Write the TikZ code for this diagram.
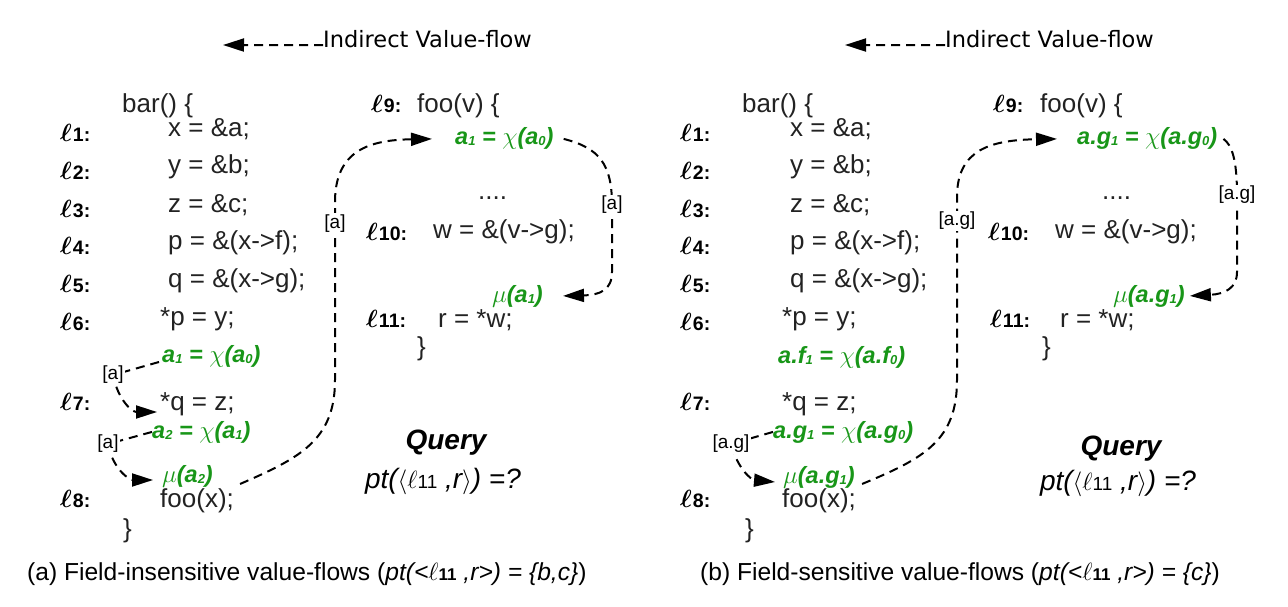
\documentclass[tikz,border=0pt]{standalone}
\usepackage{amsmath,bm}
\usepackage{fontspec}
\setmainfont{Liberation Sans}
\newfontfamily\legendfont{DejaVu Sans}
\usetikzlibrary{arrows.meta}
\definecolor{vgreen}{RGB}{24,150,24}
\definecolor{codegray}{RGB}{34,34,34}
\newcommand\Lno[1]{{\fontsize{27}{27}\selectfont$\boldsymbol{\ell}$}\kern1pt{\fontsize{19.5}{19.5}\selectfont\bfseries #1:}}
\newcommand\subn[1]{\raisebox{-1pt}{\fontsize{13}{13}\selectfont #1}}
\newcommand\subq[1]{{\upshape\fontsize{19}{19}\selectfont #1}}
\begin{document}
\begin{tikzpicture}[x=1pt,y=-1pt,
  code/.style={anchor=base west,inner sep=0pt,text=codegray,font=\fontsize{26}{26}\selectfont},
  lno/.style={anchor=base west,inner sep=0pt,font=\fontsize{24}{24}\selectfont},
  grn/.style={anchor=base west,inner sep=0pt,text=vgreen,font=\fontsize{23.5}{23.5}\selectfont\bfseries\itshape},
  tag/.style={fill=white,inner sep=1.5pt,font=\fontsize{19}{19}\selectfont},
  flow/.style={dash pattern=on 9pt off 6pt,line width=2pt,-{Triangle[length=21pt,width=13pt]}},
  legend/.style={anchor=base west,inner sep=0pt,font=\legendfont\fontsize{22.5}{22.5}\selectfont},
  query/.style={anchor=base,inner sep=0pt,font=\fontsize{28}{28}\selectfont\bfseries\itshape},
  ptq/.style={anchor=base,inner sep=0pt,font=\fontsize{28}{28}\selectfont\itshape},
  captext/.style={anchor=base west,inner sep=0pt,font=\fontsize{24.6}{24.6}\selectfont}]
\useasboundingbox (0,0) rectangle (1288,607);

% ---------- legends ----------
\node[legend] (legL) at (323,48) {Indirect Value-flow};
\coordinate (legLtip) at (223,45);
\draw[flow] ([yshift=-5.5pt]legL.west) -- (legLtip);
\node[legend] (legR) at (945,48) {Indirect Value-flow};
\coordinate (legRtip) at (845,45);
\draw[flow] ([yshift=-5.5pt]legR.west) -- (legRtip);

% ---------- panel (a): bar ----------
\node[code] (bar) at (122,113) {bar() \{};
\node[lno] (l1) at (60,142) {\Lno{1}};
\node[code] (c1) at (168,137) {x = \&a;};
\node[lno] (l2) at (60,179) {\Lno{2}};
\node[code] (c2) at (168,174) {y = \&b;};
\node[lno] (l3) at (60,217) {\Lno{3}};
\node[code] (c3) at (168,212) {z = \&c;};
\node[lno] (l4) at (60,254) {\Lno{4}};
\node[code] (c4) at (168,249) {p = \&(x->f);};
\node[lno] (l5) at (60,292) {\Lno{5}};
\node[code] (c5) at (168,287) {q = \&(x->g);};
\node[lno] (l6) at (60,330) {\Lno{6}};
\node[code] (c6) at (160,325) {*p = y;};
\node[grn] (gA1) at (162,362) {a\subn{1} = $\chi$(a\subn{0})};
\node[lno] (l7) at (60,410) {\Lno{7}};
\node[code] (c7) at (160,410) {*q = z;};
\node[grn] (gA2) at (152,438) {a\subn{2} = $\chi$(a\subn{1})};
\node[grn] (gMu) at (162,482) {$\mu$(a\subn{2})};
\node[lno] (l8) at (60,507) {\Lno{8}};
\node[code] (c8) at (160,507) {foo(x);};
\node[code] (cEnd) at (123,537) {\}};

% ---------- panel (a): foo ----------
\node[lno] (l9) at (371,113) {\Lno{9}};
\node[code] (f0) at (417,113) {foo(v) \{};
\node[grn] (gF) at (455,145) {a\subn{1} = $\chi$(a\subn{0})};
\node[code] (fd) at (478,200) {....};
\node[lno] (l10) at (366,240) {\Lno{10}};
\node[code] (f1) at (433,238) {w = \&(v->g);};
\node[grn] (gM) at (492,302) {$\mu$(a\subn{1})};
\node[lno] (l11) at (366,327) {\Lno{11}};
\node[code] (f2) at (438,327) {r = *w;};
\node[code] (fEnd) at (417,355) {\}};

\node[query] (qL) at (446,449) {Query};
\node[ptq] (pL) at (443,488) {pt($\langle\ell$\subq{11} ,r$\rangle$) =?};
\node[captext] (capA) at (27,580) {(a) Field-insensitive value-flows (\textit{pt(<}$\ell${\bfseries\fontsize{17}{17}\selectfont 11} \textit{,r>) = \{b,c\}})};

% ---------- panel (a): flows ----------
\draw[flow] ([xshift=-3pt]gA1.base west) -- (113,375) node[tag]{[a]}
  .. controls (118,400) and (132,412) .. ([shift={(-3pt,-2pt)}]c7.base west);
\draw[flow] (gA2.west) -- (108,444) node[tag]{[a]}
  .. controls (113,470) and (130,480) .. ([shift={(-9pt,2pt)}]gMu.base west);
\draw[flow] ([shift={(6pt,4pt)}]c8.north east) .. controls (300,458) and (335,440) .. (335,380)
  -- (335,200) node[tag,pos=0.87]{[a]}
  .. controls (336,150) and (370,140) .. ([xshift=-23pt]gF.west);
\draw[flow] ([xshift=10pt]gF.east) .. controls (600,148) and (612,165) .. (612,205) node[tag]{[a]}
  -- (612,272) .. controls (612,290) and (600,295) .. ([xshift=20pt]gM.east);

% ---------- panel (b): bar ----------
\node[code] (barR) at (742,113) {bar() \{};
\node[lno] (r1) at (680,142) {\Lno{1}};
\node[code] (d1) at (790,137) {x = \&a;};
\node[lno] (r2) at (680,179) {\Lno{2}};
\node[code] (d2) at (790,174) {y = \&b;};
\node[lno] (r3) at (680,217) {\Lno{3}};
\node[code] (d3) at (790,212) {z = \&c;};
\node[lno] (r4) at (680,254) {\Lno{4}};
\node[code] (d4) at (790,249) {p = \&(x->f);};
\node[lno] (r5) at (680,292) {\Lno{5}};
\node[code] (d5) at (790,287) {q = \&(x->g);};
\node[lno] (r6) at (680,330) {\Lno{6}};
\node[code] (d6) at (782,325) {*p = y;};
\node[grn] (gAF) at (778,363) {a.f\subn{1} = $\chi$(a.f\subn{0})};
\node[lno] (r7) at (680,410) {\Lno{7}};
\node[code] (d7) at (782,410) {*q = z;};
\node[grn] (gG1) at (773,438) {a.g\subn{1} = $\chi$(a.g\subn{0})};
\node[grn] (gMuR) at (783,483) {$\mu$(a.g\subn{1})};
\node[lno] (r8) at (680,507) {\Lno{8}};
\node[code] (d8) at (782,507) {foo(x);};
\node[code] (dEnd) at (745,537) {\}};

% ---------- panel (b): foo ----------
\node[lno] (r9) at (993,113) {\Lno{9}};
\node[code] (h0) at (1040,113) {foo(v) \{};
\node[grn] (gFR) at (1077,145) {a.g\subn{1} = $\chi$(a.g\subn{0})};
\node[code] (hd) at (1102,200) {....};
\node[lno] (r10) at (988,240) {\Lno{10}};
\node[code] (h1) at (1055,238) {w = \&(v->g);};
\node[grn] (gMR) at (1113,302) {$\mu$(a.g\subn{1})};
\node[lno] (r11) at (990,327) {\Lno{11}};
\node[code] (h2) at (1060,327) {r = *w;};
\node[code] (hEnd) at (1042,355) {\}};

\node[query] (qR) at (1121,455) {Query};
\node[ptq] (pR) at (1118,490) {pt($\langle\ell$\subq{11} ,r$\rangle$) =?};
\node[captext] (capB) at (700,580) {(b) Field-sensitive value-flows (\textit{pt(<}$\ell${\bfseries\fontsize{17}{17}\selectfont 11} \textit{,r>) = \{c\}})};

% ---------- panel (b): flows ----------
\draw[flow] (gG1.west) -- (731,444) node[tag]{[a.g]}
  .. controls (738,470) and (752,480) .. ([shift={(-8pt,1pt)}]gMuR.base west);
\draw[flow] ([shift={(6pt,4pt)}]d8.north east) .. controls (925,458) and (957,440) .. (957,380)
  -- (957,195) node[tag,pos=0.86]{[a.g]}
  .. controls (958,150) and (990,140) .. ([xshift=-20pt]gFR.west);
\draw[flow] ([xshift=6pt]gFR.east) .. controls (1232,145) and (1237,160) .. (1237,195) node[tag]{[a.g]}
  -- (1237,272) .. controls (1237,288) and (1225,294) .. ([xshift=5pt]gMR.east);
\end{tikzpicture}
\end{document}
